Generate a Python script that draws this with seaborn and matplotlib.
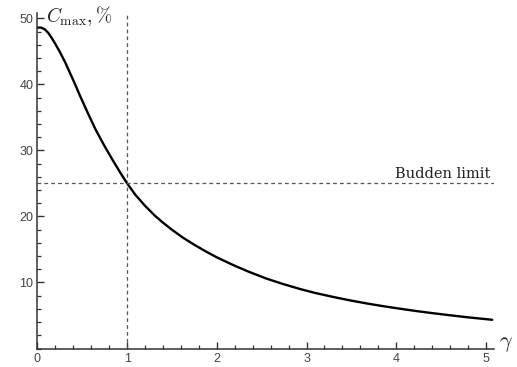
import matplotlib
matplotlib.use("Agg")
import matplotlib.pyplot as plt
import seaborn as sns
import pandas as pd
from matplotlib.ticker import MultipleLocator

gamma = [0.0, 0.04, 0.08, 0.12, 0.16, 0.2, 0.25, 0.31, 0.36, 0.42, 0.47, 0.56, 0.65, 0.75,
         0.84, 0.92, 1.0, 1.09, 1.2, 1.31, 1.4, 1.5, 1.62, 1.75, 1.87, 2.0, 2.18, 2.36,
         2.55, 2.73, 2.93, 3.1, 3.3, 3.48, 3.66, 3.85, 4.03, 4.22, 4.4, 4.59, 4.8, 5.07]
cmax = [48.6, 48.6, 48.35, 47.8, 47.0, 46.1, 44.9, 43.3, 41.8, 40.0, 38.4, 35.7, 33.1, 30.6,
        28.5, 26.7, 25.0, 23.3, 21.6, 20.1, 19.05, 17.98, 16.8, 15.7, 14.75, 13.8, 12.65, 11.6,
        10.6, 9.8, 9.0, 8.4, 7.8, 7.3, 6.85, 6.42, 6.05, 5.68, 5.36, 5.05, 4.72, 4.35]
budden_limit = 25.0
gamma_limit = 1.0

sns.set_theme(style="white")
plt.rcParams['font.family'] = ['Liberation Sans', 'DejaVu Sans']
plt.rcParams['mathtext.fontset'] = 'cm'

fig = plt.figure(figsize=(5.17, 3.67), dpi=100)
ax = fig.add_axes([0.0725, 0.0504, 0.883, 0.914])

df = pd.DataFrame({"gamma": gamma, "cmax": cmax})
sns.lineplot(data=df, x="gamma", y="cmax", ax=ax, color="black", linewidth=1.7, sort=False)

ax.axhline(budden_limit, color="#555555", linestyle=(0, (3, 2.5)), linewidth=0.9)
ax.axvline(gamma_limit, color="#555555", linestyle=(0, (3, 2.5)), linewidth=0.9)

ax.set_xlim(0, 5.09)
ax.set_ylim(0, 50.8)
ax.set_xlabel("")
ax.set_ylabel("")

for s in ["top", "right"]:
    ax.spines[s].set_visible(False)
for s in ["left", "bottom"]:
    ax.spines[s].set_color("#333333")
    ax.spines[s].set_linewidth(1.1)

ax.xaxis.set_major_locator(MultipleLocator(1))
ax.xaxis.set_minor_locator(MultipleLocator(0.2))
ax.yaxis.set_minor_locator(MultipleLocator(2))
ax.set_yticks([10, 20, 30, 40, 50])
ax.tick_params(axis="both", which="major", direction="in", length=5, width=1.0,
               color="#333333", labelsize=9, labelcolor="#444444", pad=3)
ax.tick_params(axis="both", which="minor", direction="in", length=3, width=0.9, color="#333333")
ax.tick_params(axis="x", which="both", bottom=True)
ax.tick_params(axis="y", which="both", left=True)

ax.text(5.05, budden_limit + 0.4, "Budden limit", ha="right", va="bottom",
        family="DejaVu Serif", fontsize=10.5, color="#222222")
ax.text(0.1, 50.3, r"$C_{\max}, \%$", ha="left", va="center", fontsize=14, color="#222222")
ax.text(5.15, 0.8, r"$\gamma$", ha="left", va="center", fontsize=16, color="#222222", clip_on=False)

fig.savefig("out.png", dpi=100)
